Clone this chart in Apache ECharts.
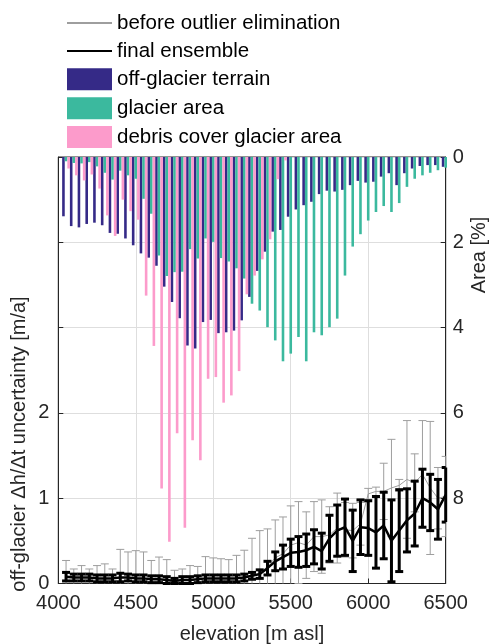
<!DOCTYPE html>
<html>
<head>
<meta charset="utf-8">
<script src="https://cdn.jsdelivr.net/npm/echarts@6/dist/echarts.min.js"></script>
<style>
  html, body { margin: 0; padding: 0; background: #fff; }
  #chart { width: 491px; height: 644px; }
</style>
</head>
<body>
<div id="chart"></div>
<script>
// Elevation bins [m asl]
const elevation = [4050, 4100, 4150, 4200, 4250, 4300, 4350, 4400, 4450, 4500,
  4550, 4600, 4650, 4700, 4750, 4800, 4850, 4900, 4950, 5000,
  5050, 5100, 5150, 5200, 5250, 5300, 5350, 5400, 5450, 5500,
  5550, 5600, 5650, 5700, 5750, 5800, 5850, 5900, 5950, 6000,
  6050, 6100, 6150, 6200, 6250, 6300, 6350, 6400, 6450, 6500];

// Hypsometry: share of each surface class per bin [%]
const offGlacierArea = [1.39, 1.62, 1.65, 1.57, 1.54, 1.60, 1.78, 1.80, 1.91, 2.07,
  2.26, 2.36, 2.55, 3.04, 3.40, 3.78, 4.42, 4.49, 3.87, 3.82,
  4.13, 4.11, 4.07, 3.83, 3.28, 2.67, 2.22, 1.75, 1.71, 1.40,
  1.23, 1.13, 1.05, 0.87, 0.79, 0.81, 0.77, 0.66, 0.56, 0.60,
  0.58, 0.46, 0.38, 0.66, 0.38, 0.27, 0.21, 0.19, 0.19, 0.23];
const glacierArea = [0.10, 0.14, 0.15, 0.12, 0.22, 0.37, 0.53, 0.32, 0.43, 0.51,
  0.98, 1.33, 2.31, 2.79, 2.70, 2.69, 2.16, 2.38, 1.91, 1.99,
  2.37, 2.45, 2.61, 2.85, 3.44, 3.60, 3.99, 4.30, 4.79, 4.61,
  4.22, 4.79, 4.11, 4.18, 3.99, 3.79, 2.78, 2.10, 1.81, 1.49,
  1.29, 1.15, 1.29, 1.08, 0.70, 0.51, 0.43, 0.37, 0.31, 0.25];
const debrisArea = [0.27, 0.43, 0.55, 0.41, 0.74, 1.37, 1.85, 1.00, 1.27, 1.47,
  3.25, 4.43, 7.77, 9.02, 6.48, 8.69, 6.64, 7.11, 5.20, 5.16,
  5.76, 5.59, 5.02, 3.22, 2.78, 2.40, 1.93, 0.52, 0.08, 0,
  0, 0, 0, 0, 0, 0, 0, 0, 0, 0,
  0, 0, 0, 0, 0, 0, 0, 0, 0, 0];

// Off-glacier dh/dt uncertainty before outlier elimination [m/a]
const rawMean = [0.08, 0.07, 0.07, 0.07, 0.06, 0.06, 0.06, 0.07, 0.07, 0.06,
  0.06, 0.05, 0.05, 0.04, 0.03, 0.04, 0.04, 0.05, 0.06, 0.06,
  0.06, 0.06, 0.06, 0.08, 0.10, 0.12, 0.20, 0.30, 0.35, 0.45,
  0.48, 0.45, 0.55, 0.55, 0.57, 0.65, 0.63, 0.62, 0.70, 1.05,
  1.08, 1.08, 1.12, 1.15, 1.22, 1.18, 1.28, 1.12, 1.00, 1.02];
const rawSpread = [0.19, 0.10, 0.14, 0.10, 0.15, 0.17, 0.11, 0.33, 0.30, 0.325,
  0.31, 0.22, 0.26, 0.24, 0.125, 0.13, 0.17, 0.15, 0.255, 0.24,
  0.23, 0.22, 0.27, 0.31, 0.43, 0.50, 0.44, 0.445, 0.43, 0.46,
  0.48, 0.39, 0.41, 0.43, 0.33, 0.41, 0.32, 0.32, 0.25, 0.065,
  0.05, 0.33, 0.57, 0.07, 0.69, 0.34, 0.63, 0.78, 0.36, 0.47];

// Final ensemble [m/a]
const finalMean = [0.08, 0.07, 0.07, 0.07, 0.06, 0.06, 0.06, 0.07, 0.07, 0.06,
  0.06, 0.05, 0.05, 0.04, 0.03, 0.04, 0.04, 0.05, 0.06, 0.06,
  0.06, 0.06, 0.06, 0.07, 0.09, 0.11, 0.18, 0.26, 0.31, 0.36,
  0.37, 0.39, 0.43, 0.38, 0.53, 0.62, 0.66, 0.50, 0.66, 0.65,
  0.60, 0.68, 0.50, 0.62, 0.74, 0.82, 1.00, 0.95, 0.87, 1.04];
const finalSpread = [0.05, 0.04, 0.04, 0.04, 0.04, 0.04, 0.04, 0.05, 0.04, 0.04,
  0.04, 0.04, 0.04, 0.04, 0.03, 0.04, 0.04, 0.04, 0.04, 0.04,
  0.04, 0.04, 0.04, 0.04, 0.04, 0.05, 0.08, 0.11, 0.14, 0.16,
  0.18, 0.19, 0.20, 0.21, 0.27, 0.30, 0.33, 0.36, 0.32, 0.32,
  0.42, 0.39, 0.48, 0.48, 0.37, 0.38, 0.34, 0.33, 0.35, 0.32];

// Axis ticks
const xTicks = { min: 4000, max: 6500, step: 500 };
const leftTicks = { min: 0, max: 5, step: 1, lastLabelled: 2 };
const rightTicks = { min: 0, max: 10, step: 2, lastLabelled: 8 };

const FONT = '"Liberation Sans", Arial, sans-serif';
const AXIS_COLOR = '#262626';
const GRID_COLOR = '#dedede';
const RAW_COLOR = '#9e9e9e';

const pairs = (ys) => elevation.map((x, i) => [x, ys[i]]);
const triples = (m, s) => elevation.map((x, i) => [x, m[i], s[i]]);

// Vertical error bar with caps, clipped to the plot area
function errorBar(color, width, capHalf) {
  return function (params, api) {
    const cs = params.coordSys;
    const x = api.value(0), m = api.value(1), s = api.value(2);
    const hi = api.coord([x, m + s]);
    const lo = api.coord([x, m - s]);
    const top = cs.y, bottom = cs.y + cs.height;
    const left = cs.x, right = cs.x + cs.width;
    const px = hi[0];
    const style = { stroke: color, lineWidth: width, lineCap: 'butt' };
    const children = [];
    const y1 = Math.max(hi[1], top), y2 = Math.min(lo[1], bottom);
    if (px <= right + 0.5 && y2 > y1) {
      children.push({ type: 'line', shape: { x1: px, y1: y1, x2: px, y2: y2 }, style: style });
    }
    const cx1 = Math.max(px - capHalf, left), cx2 = Math.min(px + capHalf, right);
    if (hi[1] >= top && hi[1] <= bottom) {
      children.push({ type: 'line', shape: { x1: cx1, y1: hi[1], x2: cx2, y2: hi[1] }, style: style });
    }
    if (lo[1] <= bottom && lo[1] >= top) {
      children.push({ type: 'line', shape: { x1: cx1, y1: lo[1], x2: cx2, y2: lo[1] }, style: style });
    }
    return { type: 'group', children: children };
  };
}

const chart = echarts.init(document.getElementById('chart'), null, { renderer: 'canvas' });

const barBase = {
  type: 'bar',
  xAxisIndex: 0,
  yAxisIndex: 1,
  barWidth: 2.6,
  barGap: '0%',
  clip: true,
  z: 2
};

// Legend entries for the two curves: line only, no marker
const hiddenMarker = { color: 'rgba(0,0,0,0)', borderWidth: 0, opacity: 0 };

chart.setOption({
  animation: false,
  textStyle: { fontFamily: FONT },
  grid: {
    left: 58.3, top: 157, width: 387.4, height: 426.5,
    show: true, borderColor: AXIS_COLOR, borderWidth: 1,
    outerBoundsMode: 'none'
  },
  legend: {
    orient: 'vertical',
    left: 61,
    top: 7.5,
    itemWidth: 45,
    itemHeight: 22,
    itemGap: 6.9,
    textStyle: { fontSize: 20.5, color: '#000', fontFamily: FONT },
    data: [
      { name: 'before outlier elimination', itemStyle: hiddenMarker },
      { name: 'final ensemble', itemStyle: hiddenMarker },
      { name: 'off-glacier terrain', icon: 'rect' },
      { name: 'glacier area', icon: 'rect' },
      { name: 'debris cover glacier area', icon: 'rect' }
    ]
  },
  xAxis: {
    type: 'value',
    min: xTicks.min, max: xTicks.max, interval: xTicks.step,
    name: 'elevation [m asl]',
    nameLocation: 'middle',
    nameGap: 41,
    nameTextStyle: { fontSize: 20, color: AXIS_COLOR, fontFamily: FONT },
    axisLine: { show: true, lineStyle: { color: AXIS_COLOR, width: 1 } },
    axisTick: { show: true, inside: true, length: 5, lineStyle: { color: AXIS_COLOR } },
    axisLabel: { fontSize: 20, color: AXIS_COLOR, margin: 10, fontFamily: FONT, formatter: (v) => String(v) },
    splitLine: { show: true, lineStyle: { color: GRID_COLOR, width: 1 } }
  },
  yAxis: [
    {
      type: 'value',
      position: 'left',
      min: leftTicks.min, max: leftTicks.max, interval: leftTicks.step,
      axisLine: { show: true, lineStyle: { color: AXIS_COLOR, width: 1 } },
      axisTick: { show: true, inside: true, length: 5, lineStyle: { color: AXIS_COLOR } },
      axisLabel: {
        fontSize: 20, color: AXIS_COLOR, margin: 9, fontFamily: FONT,
        formatter: (v) => (v <= leftTicks.lastLabelled ? String(v) : '')
      },
      splitLine: { show: true, lineStyle: { color: GRID_COLOR, width: 1 } }
    },
    {
      type: 'value',
      position: 'right',
      inverse: true,
      min: rightTicks.min, max: rightTicks.max, interval: rightTicks.step,
      axisLine: { show: true, lineStyle: { color: AXIS_COLOR, width: 1 } },
      axisTick: { show: true, inside: true, length: 5, lineStyle: { color: AXIS_COLOR } },
      axisLabel: {
        fontSize: 20, color: AXIS_COLOR, margin: 7, fontFamily: FONT,
        formatter: (v) => (v <= rightTicks.lastLabelled ? String(v) : '')
      },
      splitLine: { show: false }
    }
  ],
  graphic: [
    {
      type: 'text', x: 19, y: 444, rotation: Math.PI / 2,
      style: {
        text: 'off-glacier \u0394h/\u0394t uncertainty [m/a]',
        fontSize: 20, fontFamily: FONT, fill: AXIS_COLOR,
        textAlign: 'center', textVerticalAlign: 'middle'
      }
    },
    {
      type: 'text', x: 479, y: 255, rotation: Math.PI / 2,
      style: {
        text: 'Area [%]',
        fontSize: 20, fontFamily: FONT, fill: AXIS_COLOR,
        textAlign: 'center', textVerticalAlign: 'middle'
      }
    }
  ],
  series: [
    Object.assign({}, barBase, {
      name: 'off-glacier terrain', data: pairs(offGlacierArea),
      itemStyle: { color: '#352a87' }
    }),
    Object.assign({}, barBase, {
      name: 'glacier area', data: pairs(glacierArea),
      itemStyle: { color: '#3bb99e' }
    }),
    Object.assign({}, barBase, {
      name: 'debris cover glacier area', data: pairs(debrisArea),
      itemStyle: { color: '#fc9bcb' }
    }),
    {
      type: 'custom',
      name: 'raw spread',
      xAxisIndex: 0, yAxisIndex: 0,
      data: triples(rawMean, rawSpread),
      encode: { x: 0, y: 1 },
      renderItem: errorBar(RAW_COLOR, 1, 4),
      z: 4, silent: true
    },
    {
      type: 'line',
      name: 'before outlier elimination',
      xAxisIndex: 0, yAxisIndex: 0,
      data: pairs(rawMean),
      symbol: 'none',
      lineStyle: { color: RAW_COLOR, width: 1 },
      itemStyle: { color: RAW_COLOR },
      clip: true,
      z: 5
    },
    {
      type: 'custom',
      name: 'final spread',
      xAxisIndex: 0, yAxisIndex: 0,
      data: triples(finalMean, finalSpread),
      encode: { x: 0, y: 1 },
      renderItem: errorBar('#000000', 3, 4),
      z: 6, silent: true
    },
    {
      type: 'line',
      name: 'final ensemble',
      xAxisIndex: 0, yAxisIndex: 0,
      data: pairs(finalMean),
      symbol: 'none',
      lineStyle: { color: '#000000', width: 2.5 },
      itemStyle: { color: '#000000' },
      clip: true,
      z: 7
    }
  ]
});
</script>
</body>
</html>
